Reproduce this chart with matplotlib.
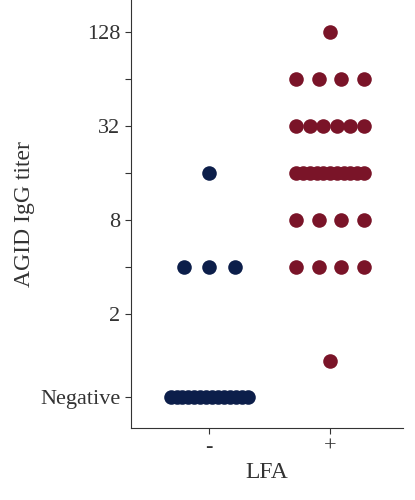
import numpy as np
import matplotlib.pyplot as plt

plt.rcParams['font.family'] = ['Liberation Serif', 'DejaVu Serif']

groups = ["-", "+"]
# log2 titer levels; Negative drawn at -0.77 (position on axis)
neg_level = -0.77
minus_levels = [neg_level, 2, 4]
minus_counts = [14, 3, 1]
plus_levels = [0, 2, 3, 4, 5, 6, 7]
plus_counts = [1, 4, 4, 11, 6, 4, 1]
tick_pos = [neg_level, 1, 2, 3, 4, 5, 6, 7]
tick_labels = ["Negative", "2", "", "8", "", "32", "", "128"]
colors = ["#0c1e4a", "#7a1428"]


def spread(n):
    if n == 1:
        return np.array([0.0])
    h = min(0.105 * (n - 1), 0.28 if n < 12 else 0.32)
    return np.linspace(-h, h, n)


fig, ax = plt.subplots(figsize=(4.15, 5), dpi=100)
fig.subplots_adjust(left=0.315, right=0.97, bottom=0.145, top=1.0)

for gi, (levels, counts) in enumerate([(minus_levels, minus_counts), (plus_levels, plus_counts)]):
    for lv, n in zip(levels, counts):
        xs = gi + spread(n)
        ax.scatter(xs, [lv] * n, s=110, color=colors[gi], zorder=3, linewidths=0)

ax.set_xlim(-0.65, 1.6)
ax.set_ylim(-1.41, 7.68)
ax.set_xticks([0, 1])
ax.set_xticklabels(groups)
ax.set_yticks(tick_pos)
ax.set_yticklabels(tick_labels)
ax.tick_params(labelsize=16, colors="#333333", length=4)
ax.set_xlabel("LFA", fontsize=17, color="#333333")
ax.set_ylabel("AGID IgG titer", fontsize=17, color="#333333")
for s in ["top", "right"]:
    ax.spines[s].set_visible(False)
for s in ["left", "bottom"]:
    ax.spines[s].set_color("#333333")

fig.savefig("out.png")
